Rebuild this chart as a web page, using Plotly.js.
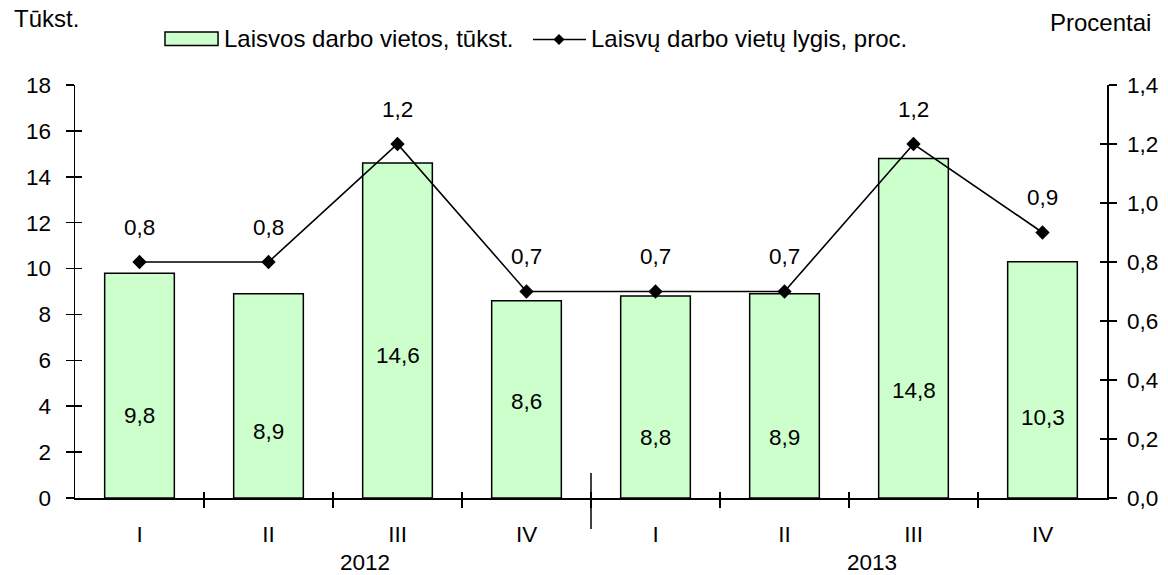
<!DOCTYPE html>
<html><head><meta charset="utf-8">
<script src="https://cdn.plot.ly/plotly-3.0.1.min.js"></script>
<style>html,body{margin:0;padding:0;background:#fff}#chart{width:1168px;height:575px}</style>
</head><body><div id="chart"></div>
<script>
const quarters = ['I','II','III','IV','I','II','III','IV'];
const years = ['2012','2013'];
const vacancies = [9.8, 8.9, 14.6, 8.6, 8.8, 8.9, 14.8, 10.3];
const vacancyRate = [0.8, 0.8, 1.2, 0.7, 0.7, 0.7, 1.2, 0.9];
const barLabelY = [3.6, 2.9, 6.2, 4.2, 2.65, 2.65, 4.7, 3.5];
const yearLabelX = [1.75, 5.68];
const boundaries = [0.5, 1.5, 2.5, 3.5, 4.5, 5.5, 6.5];

const idx = quarters.map((_, i) => i);
const fmt = v => v.toFixed(1).replace('.', ',');
const FONT = 'Liberation Sans, Arial, sans-serif';
const tf = {family: FONT, size: 22.5, color: '#000'};
const tt = {family: FONT, size: 24, color: '#000'};

const dummy = (xa, ya) => ({type: 'scatter', mode: 'markers', x: [], y: [], xaxis: xa, yaxis: ya,
  showlegend: false, hoverinfo: 'skip'});

const traces = [
  {type: 'bar', x: idx, y: vacancies, yaxis: 'y', width: 0.54,
   marker: {color: '#ccffcc', line: {color: '#000', width: 1.5}},
   name: 'Laisvos darbo vietos, tūkst.', hoverinfo: 'skip'},
  {type: 'scatter', mode: 'lines+markers', x: idx, y: vacancyRate, yaxis: 'y2',
   line: {color: '#000', width: 1.6},
   marker: {symbol: 'diamond', size: 11, color: '#000'},
   name: 'Laisvų darbo vietų lygis, proc.', hoverinfo: 'skip'},
  dummy('x2', 'y'), dummy('x3', 'y'), dummy('x', 'y3'), dummy('x', 'y4'), dummy('x', 'y5')
];

const annotations = [];
vacancies.forEach((v, i) => annotations.push({
  x: i, y: barLabelY[i], xref: 'x', yref: 'y', text: fmt(v), showarrow: false, font: tf
}));
vacancyRate.forEach((v, i) => annotations.push({
  x: i, y: v, xref: 'x', yref: 'y2', text: fmt(v), showarrow: false, yshift: 35, font: tf
}));
years.forEach((t, i) => annotations.push({
  x: yearLabelX[i], y: -0.157, xref: 'x', yref: 'paper', yanchor: 'middle', text: t, showarrow: false, font: tf
}));
annotations.push({x: -0.061, y: 1.162, xref: 'paper', yref: 'paper', xanchor: 'left', yanchor: 'middle', text: 'Tūkst.', showarrow: false, font: tt});
annotations.push({x: 0.943, y: 1.1525, xref: 'paper', yref: 'paper', xanchor: 'left', yanchor: 'middle', text: 'Procentai', showarrow: false, font: tt});
annotations.push({x: 0.1425, y: 1.1138, xref: 'paper', yref: 'paper', xanchor: 'left', yanchor: 'middle', text: 'Laisvos darbo vietos, tūkst.', showarrow: false, font: tt});
annotations.push({x: 0.498, y: 1.1138, xref: 'paper', yref: 'paper', xanchor: 'left', yanchor: 'middle', text: 'Laisvų darbo vietų lygis, proc.', showarrow: false, font: tt});

const shapes = [
  {type: 'rect', xref: 'paper', yref: 'paper', x0: 0.0872, x1: 0.1386, y0: 1.0956, y1: 1.1283,
   fillcolor: '#ccffcc', line: {color: '#000', width: 1.5}},
  {type: 'line', xref: 'paper', yref: 'paper', x0: 0.4438, x1: 0.4952, y0: 1.1102, y1: 1.1102,
   line: {color: '#000', width: 1.6}},
  {type: 'path', xref: 'paper', yref: 'paper', xsizemode: 'pixel', ysizemode: 'pixel',
   xanchor: 0.469, yanchor: 1.1102, path: 'M -5.5 0 L 0 5.5 L 5.5 0 L 0 -5.5 Z',
   fillcolor: '#000', line: {color: '#000', width: 0}},
  {type: 'line', xref: 'paper', yref: 'paper', x0: 0.5, x1: 0.5, y0: -0.075, y1: 0.0605,
   line: {color: '#000', width: 1.5}}
];

const baseAx = {showgrid: false, zeroline: false, fixedrange: true};
const tickOnly = {showticklabels: false, showline: false, tickwidth: 1.5, tickcolor: '#000'};
const layout = {
  width: 1168, height: 575,
  margin: {l: 75, r: 61, t: 85, b: 77},
  paper_bgcolor: '#fff', plot_bgcolor: '#fff',
  separators: ', ',
  showlegend: false,
  font: tf,
  xaxis: Object.assign({}, baseAx, {range: [-0.5, 7.5], tickvals: idx, ticktext: quarters,
    ticks: '', showline: true, linecolor: '#000', linewidth: 1.5, tickfont: tf, ticklabelstandoff: 15}),
  xaxis2: Object.assign({}, baseAx, tickOnly, {overlaying: 'x', anchor: 'y', range: [-0.5, 7.5], tickvals: boundaries,
    ticks: 'outside', ticklen: 9}),
  xaxis3: Object.assign({}, baseAx, tickOnly, {overlaying: 'x', anchor: 'y', range: [-0.5, 7.5], tickvals: boundaries,
    ticks: 'inside', ticklen: 6}),
  yaxis: Object.assign({}, baseAx, {range: [0, 18], dtick: 2, tick0: 0, ticks: 'outside', ticklen: 18,
    tickwidth: 1.5, tickcolor: 'rgba(0,0,0,0)', showline: true, linecolor: '#000', linewidth: 1.5, tickfont: tf}),
  yaxis2: Object.assign({}, baseAx, {overlaying: 'y', side: 'right', anchor: 'x', range: [0, 1.4], dtick: 0.2, tick0: 0,
    tickformat: '.1f', ticks: 'outside', ticklen: 8, tickwidth: 1.5, tickcolor: '#000',
    showline: true, linecolor: '#000', linewidth: 1.5, tickfont: tf, ticklabelstandoff: 6}),
  yaxis3: Object.assign({}, baseAx, tickOnly, {overlaying: 'y', anchor: 'x', range: [0, 18], dtick: 2, tick0: 0,
    ticks: 'inside', ticklen: 7}),
  yaxis4: Object.assign({}, baseAx, tickOnly, {overlaying: 'y', side: 'right', anchor: 'x', range: [0, 1.4], dtick: 0.2, tick0: 0,
    ticks: 'inside', ticklen: 7}),
  yaxis5: Object.assign({}, baseAx, tickOnly, {overlaying: 'y', anchor: 'x', range: [0, 18], dtick: 2, tick0: 0,
    ticks: 'outside', ticklen: 8}),
  annotations: annotations,
  shapes: shapes
};

Plotly.newPlot('chart', traces, layout, {staticPlot: true, displayModeBar: false});
</script>
</body></html>
